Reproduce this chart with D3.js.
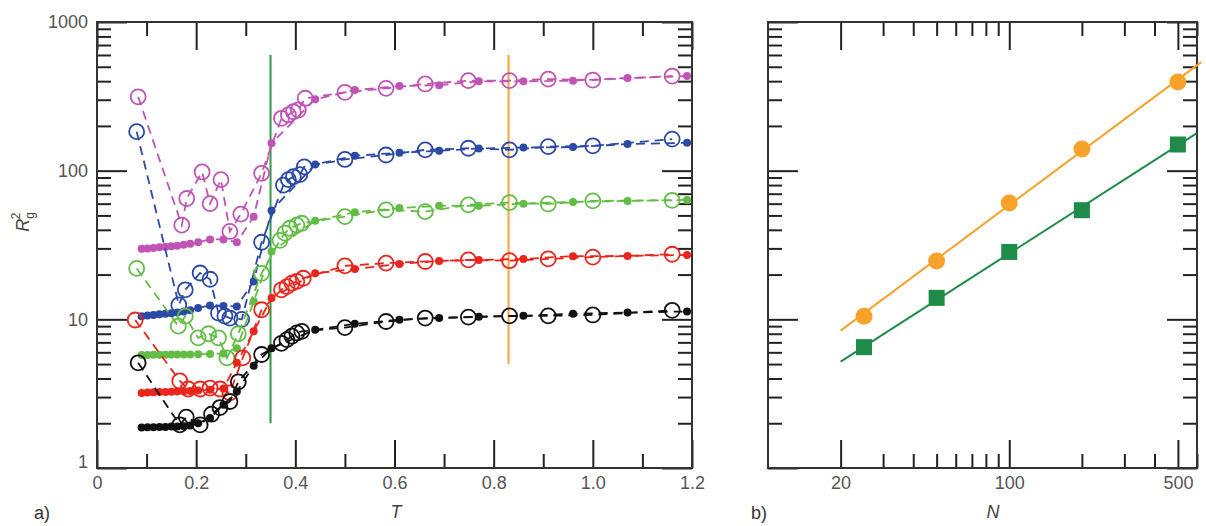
<!DOCTYPE html>
<meta charset="utf-8">
<style>
  body { margin: 0; background: #fff; }
  text { font-family: "Liberation Sans", Arial, sans-serif; }
  .tick text { font-size: 18px; fill: #555; }
  .tick line { stroke: #222; stroke-width: 2; }
  .frame { fill: none; stroke: #333; stroke-width: 2; }
</style>
<body>
<script src="https://d3js.org/d3.v7.min.js"></script>
<script>
// panel a) temperatures of the filled symbols (shared by every chain)
var filledT = [0.09,0.102,0.114,0.126,0.138,0.150,0.162,0.175,0.188,0.204,0.228,0.255,0.282,0.316,0.352,0.44,0.52,0.61,0.69,0.77,0.86,0.96,1.07,1.19];

var magentaFilled = [29.8,30.0,30.2,30.5,30.8,31.0,31.3,31.8,32.2,33.0,34.5,34.5,33.0,49,153,302,349,371,376,399,399,403,420,433];
var blueFilled    = [10.5,10.6,10.7,10.8,10.9,11.0,11.1,11.3,11.5,11.9,12.4,12.3,12.2,18,54,110,126,132,136,141,143,144,151,154];
var greenFilled   = [5.75,5.76,5.77,5.78,5.78,5.79,5.8,5.8,5.8,5.82,5.85,5.9,6.4,13.2,28.6,46,52.5,56,58,58,60,61.6,62.6,63.6];
var redFilled     = [3.2,3.22,3.23,3.24,3.25,3.26,3.27,3.28,3.3,3.32,3.36,3.42,5.1,8.3,13.9,20.4,21.8,23.6,24.7,25.1,25.5,26.6,26.7,27.1];
var blackFilled   = [1.87,1.88,1.88,1.89,1.89,1.9,1.9,1.91,1.93,2.0,2.17,2.66,3.27,4.87,6.4,8.5,9.33,9.93,10.2,10.4,10.56,10.9,11.1,11.3];

// open symbols: [T, Rg^2]
var magentaOpen = [[0.083,314],[0.171,43],[0.181,65],[0.212,98],[0.228,60],[0.25,87],[0.268,39],[0.29,51],[0.332,96],[0.372,225],[0.386,237],[0.396,249],[0.406,256],[0.42,307],[0.5,336],[0.583,358],[0.662,383],[0.749,403],[0.832,403],[0.91,413],[1.0,407],[1.16,433]];
var blueOpen = [[0.08,183],[0.165,12.5],[0.178,15.8],[0.208,20.5],[0.228,18.6],[0.245,11],[0.258,10.5],[0.268,10.2],[0.292,10],[0.332,33],[0.376,80],[0.386,87],[0.396,91],[0.409,94],[0.418,106],[0.5,119],[0.583,127.5],[0.662,138],[0.749,141.5],[0.832,138],[0.91,145],[1.0,147],[1.16,163]];
var greenOpen = [[0.08,22],[0.164,9],[0.178,10.5],[0.204,7.5],[0.225,8],[0.245,7.5],[0.262,5.5],[0.285,8],[0.332,20.4],[0.369,34],[0.379,38],[0.389,41],[0.403,43],[0.413,44.3],[0.5,49.1],[0.583,54.5],[0.662,53],[0.749,58.9],[0.832,61],[0.91,59.7],[1.0,62.6],[1.16,63.2]];
var redOpen = [[0.077,9.9],[0.167,3.85],[0.184,3.4],[0.208,3.4],[0.228,3.45],[0.248,3.4],[0.268,3.2],[0.294,5.5],[0.332,11.6],[0.372,15.8],[0.383,16.6],[0.393,17.5],[0.403,18],[0.416,18.9],[0.5,22.9],[0.583,23.9],[0.662,24.5],[0.749,25.1],[0.832,24.8],[0.91,25.5],[1.0,26.2],[1.16,27.4]];
var blackOpen = [[0.083,5.1],[0.167,1.95],[0.18,2.2],[0.208,1.95],[0.231,2.3],[0.248,2.55],[0.268,2.8],[0.285,3.8],[0.332,5.8],[0.372,6.9],[0.383,7.3],[0.393,7.7],[0.403,8.1],[0.413,8.3],[0.5,8.8],[0.583,9.67],[0.662,10.2],[0.749,10.35],[0.832,10.56],[0.91,10.56],[1.0,10.7],[1.16,11.5]];

// vertical marker lines in a): T and the Rg^2 range they span
var markerT = [0.35, 0.83];
var markerRange = [[2, 600], [5, 600]];

// panel b)
var chainN = [25, 50, 100, 200, 500];
var rgOrange = [10.5, 24.7, 60.7, 140, 395];
var rgGreen = [6.5, 13.95, 28.4, 54.2, 150];
var fitOrange = [[20, 8.4], [625, 537]];
var fitGreen = [[20, 5.2], [597, 178]];

// tick labels
var tMajor = [0, 0.2, 0.4, 0.6, 0.8, 1.0, 1.2];
var tLabels = ["0", "0.2", "0.4", "0.6", "0.8", "1.0", "1.2"];
var tMinor = [0.1, 0.3, 0.5, 0.7, 0.9, 1.1];
var rMajor = [1, 10, 100, 1000];
var nMajor = [20, 100, 500];

var series = [
  {color: "#c054b5", open: magentaOpen, filled: magentaFilled},
  {color: "#2c4aa5", open: blueOpen, filled: blueFilled},
  {color: "#62bd45", open: greenOpen, filled: greenFilled},
  {color: "#e8261c", open: redOpen, filled: redFilled},
  {color: "#111111", open: blackOpen, filled: blackFilled}
];
var markerColors = ["#2f9a48", "#f7a531"];

var svg = d3.select("body").append("svg").attr("width", 1206).attr("height", 526);

var A = {left: 97, right: 692, top: 22, bottom: 468};
var B = {left: 768, right: 1197, top: 22, bottom: 468};

var x = d3.scaleLinear().domain([0, 1.2]).range([A.left, A.right]);
var y = d3.scaleLog().domain([1, 1000]).range([A.bottom, A.top]);
var xn = d3.scaleLog().domain([10, 600]).range([B.left, B.right]);

var rMinor = y.ticks().filter(function(d) { return rMajor.indexOf(d) < 0; });
var nMinor = xn.ticks().filter(function(d) { return d !== 10 && nMajor.indexOf(d) < 0; });

function addAxis(tx, ty, axis) {
  var g = svg.append("g").attr("transform", "translate(" + tx + "," + ty + ")").call(axis);
  g.select(".domain").remove();
  return g;
}

// ---- panel a) axes
addAxis(0, A.bottom, d3.axisBottom(x).tickValues(tMajor).tickSize(-28).tickPadding(8)
  .tickFormat(function(d, i) { return tLabels[i]; }));
addAxis(0, A.bottom, d3.axisBottom(x).tickValues(tMinor).tickSize(-14).tickFormat(""));
addAxis(0, A.top, d3.axisTop(x).tickValues(tMajor).tickSize(-28).tickFormat(""));
addAxis(0, A.top, d3.axisTop(x).tickValues(tMinor).tickSize(-14).tickFormat(""));
var yl = addAxis(A.left, 0, d3.axisLeft(y).tickValues(rMajor).tickSize(-30).tickPadding(9).tickFormat(d3.format("d")));
yl.selectAll(".tick text").filter(function(d) { return d === 1; }).attr("dy", "-0.05em");
addAxis(A.left, 0, d3.axisLeft(y).tickValues(rMinor).tickSize(-14).tickFormat(""));
addAxis(A.right, 0, d3.axisRight(y).tickValues(rMajor).tickSize(-30).tickFormat(""));
addAxis(A.right, 0, d3.axisRight(y).tickValues(rMinor).tickSize(-14).tickFormat(""));

// ---- panel b) axes
addAxis(0, B.bottom, d3.axisBottom(xn).tickValues(nMajor).tickSize(-28).tickPadding(8).tickFormat(d3.format("d")));
addAxis(0, B.bottom, d3.axisBottom(xn).tickValues(nMinor).tickSize(-14).tickFormat(""));
addAxis(0, B.top, d3.axisTop(xn).tickValues(nMajor).tickSize(-28).tickFormat(""));
addAxis(0, B.top, d3.axisTop(xn).tickValues(nMinor).tickSize(-14).tickFormat(""));
addAxis(B.left, 0, d3.axisLeft(y).tickValues(rMajor).tickSize(-30).tickFormat(""));
addAxis(B.left, 0, d3.axisLeft(y).tickValues(rMinor).tickSize(-14).tickFormat(""));
addAxis(B.right, 0, d3.axisRight(y).tickValues(rMajor).tickSize(-30).tickFormat(""));
addAxis(B.right, 0, d3.axisRight(y).tickValues(rMinor).tickSize(-14).tickFormat(""));

// frames
[A, B].forEach(function(p) {
  svg.append("rect").attr("class", "frame")
    .attr("x", p.left).attr("y", p.top)
    .attr("width", p.right - p.left).attr("height", p.bottom - p.top);
});

// ---- panel a) data
markerT.forEach(function(t, i) {
  svg.append("line")
    .attr("x1", x(t)).attr("x2", x(t))
    .attr("y1", y(markerRange[i][0])).attr("y2", y(markerRange[i][1]))
    .attr("stroke", markerColors[i]).attr("stroke-width", 2);
});

var lineA = d3.line().x(function(d) { return x(d[0]); }).y(function(d) { return y(d[1]); });

series.forEach(function(s) {
  var filled = filledT.map(function(t, i) { return [t, s.filled[i]]; });
  [s.open, filled].forEach(function(pts) {
    svg.append("path").datum(pts)
      .attr("d", lineA).attr("fill", "none")
      .attr("stroke", s.color).attr("stroke-width", 1.8)
      .attr("stroke-dasharray", "9,6");
  });
  svg.append("g").selectAll("circle").data(filled).enter().append("circle")
    .attr("cx", function(d) { return x(d[0]); })
    .attr("cy", function(d) { return y(d[1]); })
    .attr("r", 4).attr("fill", s.color);
  svg.append("g").selectAll("circle").data(s.open).enter().append("circle")
    .attr("cx", function(d) { return x(d[0]); })
    .attr("cy", function(d) { return y(d[1]); })
    .attr("r", 7.5).attr("fill", "none")
    .attr("stroke", s.color).attr("stroke-width", 1.8);
});

// ---- panel b) data
var lineB = d3.line().x(function(d) { return xn(d[0]); }).y(function(d) { return y(d[1]); });
svg.append("path").datum(fitOrange).attr("d", lineB)
  .attr("stroke", "#f6a22b").attr("stroke-width", 2).attr("fill", "none");
svg.append("path").datum(fitGreen).attr("d", lineB)
  .attr("stroke", "#1e8c48").attr("stroke-width", 2).attr("fill", "none");

svg.append("g").selectAll("circle").data(chainN).enter().append("circle")
  .attr("cx", function(d) { return xn(d); })
  .attr("cy", function(d, i) { return y(rgOrange[i]); })
  .attr("r", 8.5).attr("fill", "#f6a22b");
svg.append("g").selectAll("rect").data(chainN).enter().append("rect")
  .attr("x", function(d) { return xn(d) - 8; })
  .attr("y", function(d, i) { return y(rgGreen[i]) - 8; })
  .attr("width", 16).attr("height", 16).attr("fill", "#1e8c48");

// ---- labels
svg.append("text").attr("x", 34).attr("y", 519).attr("font-size", 18).attr("fill", "#333").text("a)");
svg.append("text").attr("x", 751).attr("y", 519).attr("font-size", 18).attr("fill", "#333").text("b)");
svg.append("text").attr("x", 396).attr("y", 518).attr("text-anchor", "middle")
  .attr("font-size", 18).attr("font-style", "italic").attr("fill", "#444").text("T");
svg.append("text").attr("x", 993).attr("y", 518).attr("text-anchor", "middle")
  .attr("font-size", 18).attr("font-style", "italic").attr("fill", "#444").text("N");

var yt = svg.append("text").attr("transform", "translate(29,222) rotate(-90)")
  .attr("text-anchor", "middle").attr("font-size", 18).attr("fill", "#444");
yt.append("tspan").attr("font-style", "italic").text("R");
yt.append("tspan").attr("font-size", 12).attr("dy", 5).text("g");
yt.append("tspan").attr("font-size", 12).attr("dx", -7).attr("dy", -14).text("2");
</script>
</body>
